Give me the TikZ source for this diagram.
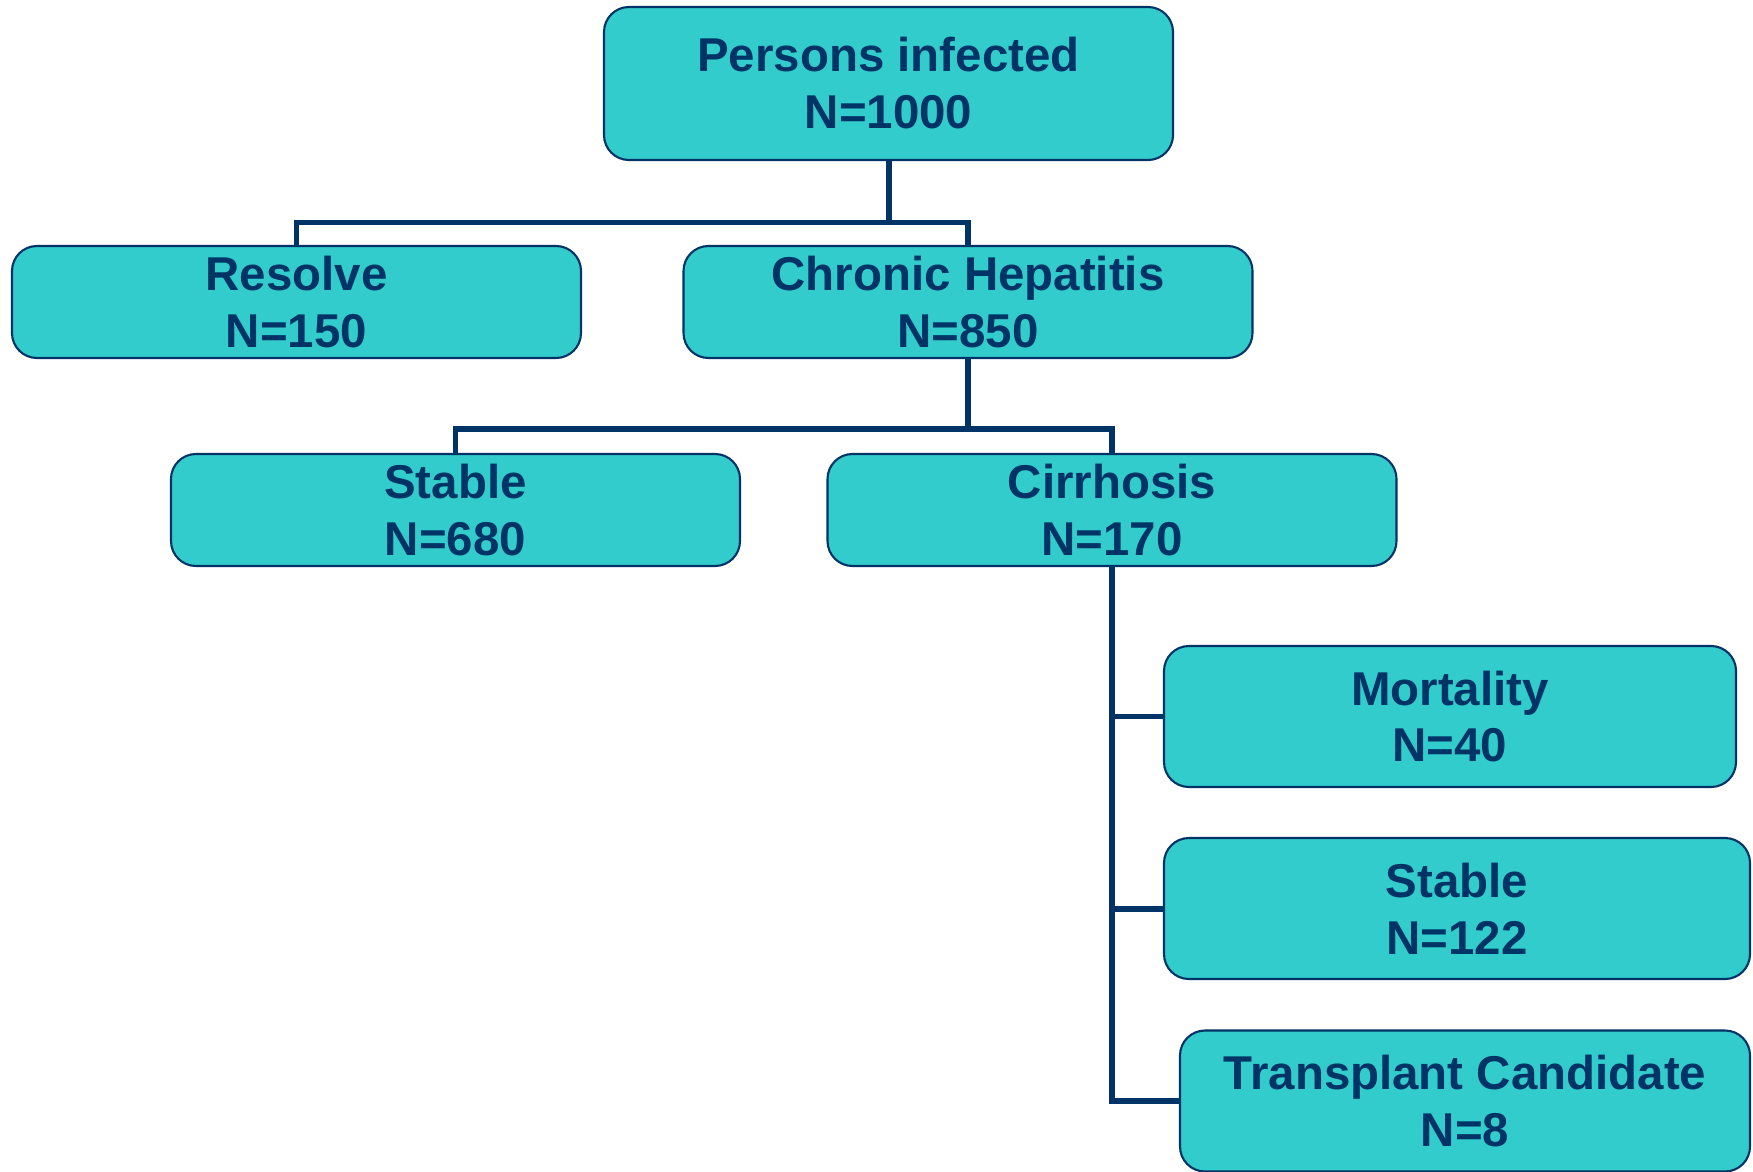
\documentclass[tikz,border=0pt]{standalone}
\usepackage{fontspec}
\setmainfont{Liberation Sans}
\usepackage{tikz}

\definecolor{boxfill}{HTML}{33CCCC}
\definecolor{navy}{HTML}{003366}

\tikzset{
  stagebox/.style={draw=navy, line width=0.6pt, fill=boxfill, rounded corners=0.25cm,
    text=navy, font=\fontsize{13.5}{16.2}\selectfont\bfseries, align=center,
    inner sep=0pt, minimum width=5.69cm, minimum height=1.12cm},
  tallbox/.style={stagebox, minimum height=1.41cm},
  link/.style={draw=navy, line width=1.7pt}
}

\begin{document}
\begin{tikzpicture}

    \useasboundingbox (0,0) rectangle (17.53,11.71);

    \node[stagebox, minimum height=1.53cm] (infected) at (8.885,10.875) {Persons infected\\N=1000};

    \node[stagebox] (resolve) at (2.965,8.69) {Resolve\\N=150};

    \node[stagebox] (chronic) at (9.68,8.69) {Chronic Hepatitis\\N=850};

    \node[stagebox] (stable) at (4.555,6.61) {Stable\\N=680};

    \node[stagebox] (cirrhosis) at (11.12,6.61) {Cirrhosis\\N=170};

    \node[tallbox, minimum width=5.72cm] (mortality) at (14.50,4.545) {Mortality\\N=40};

    \node[tallbox, minimum width=5.86cm] (stablecirr) at (14.57,2.625) {Stable\\N=122};

    \node[tallbox, minimum width=5.70cm] (transplant) at (14.65,0.70) {Transplant Candidate\\N=8};


    \coordinate (split1) at (8.885,9.485);

    \coordinate (split2) at (9.68,7.42);


    \draw[link] (infected.south) -- (split1);

    \draw[link] (resolve.north) |- (split1) -| (chronic.north);

    \draw[link] (chronic.south) -- (split2);

    \draw[link] (stable.north) |- (split2) -| (cirrhosis.north);

    \draw[link] (cirrhosis.south) |- (transplant.west);

    \draw[link] (mortality.west) -- (mortality.west -| cirrhosis.south);

    \draw[link] (stablecirr.west) -- (stablecirr.west -| cirrhosis.south);

  \end{tikzpicture}
\end{document}
